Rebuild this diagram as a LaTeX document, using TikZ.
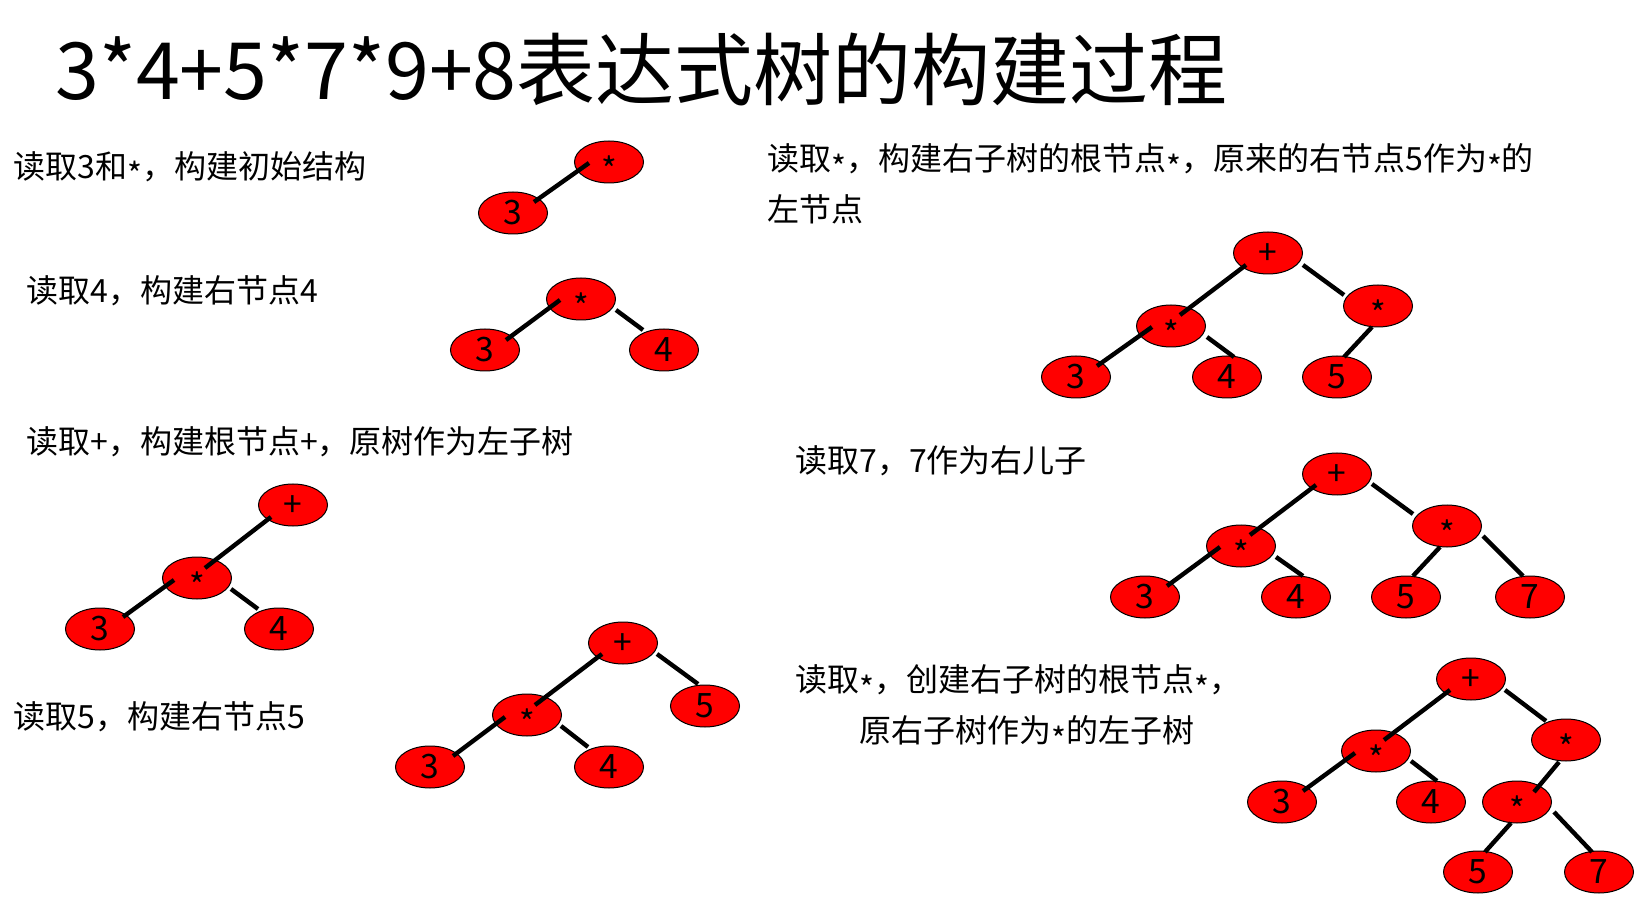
\documentclass[tikz,border=0pt]{standalone}
\usepackage{fontspec}
\setmainfont{Noto Sans CJK SC}
\usetikzlibrary{shapes.geometric, calc, positioning}
\newcommand{\lowstar}{\raisebox{-0.27em}{*}}
\tikzset{
    tnode/.style={ellipse, draw=black, line width=0.5pt, fill=red,
        minimum width=34.5pt, minimum height=21pt, inner sep=0pt,
        text height=11.8pt, text depth=0pt, font=\fontsize{16.8}{18}\selectfont},
    branch/.style={line width=2.2pt},
    caption/.style={anchor=west, inner sep=0pt, align=left,
        font=\fontsize{16}{25.3}\selectfont}
}

\begin{document}
\begin{tikzpicture}[x=0.5pt, y=-0.5pt]
    \useasboundingbox (0, 0) rectangle (1651, 909);
    \node[anchor=base west, inner sep=0pt, font=\fontsize{39.5}{42}\selectfont] (title) at (55, 100)
        {3*4+5*7*9+8表达式树的构建过程};

    % captions
    \node[caption] (c1) at (13, 169) {读取3和\lowstar，构建初始结构};
    \node[caption] (c2) at (26, 291) {读取4，构建右节点4};
    \node[caption] (c3) at (26, 442) {读取+，构建根节点+，原树作为左子树};
    \node[caption] (c4) at (13, 717) {读取5，构建右节点5};
    \node[caption] (c5) at (767, 184) {读取\lowstar，构建右子树的根节点\lowstar，原来的右节点5作为\lowstar 的\\左节点};
    \node[caption] (c6) at (795, 461) {读取7，7作为右儿子};
    \node[caption] (c7) at (795, 708) {读取\lowstar，创建右子树的根节点\lowstar，\\\hspace*{2em}原右子树作为\lowstar 的左子树};

    % step 1
    \node[tnode] (a1) at (609, 162) {\lowstar};
    \node[tnode] (a2) at (513, 213) {3};
    \draw[branch] ($(a2)+(21,-11)$) -- ($(a1)+(-20,1)$);

    % step 2
    \node[tnode] (b1) at (581, 299) {\lowstar};
    \node[tnode] (b2) at (485, 350) {3};
    \node[tnode] (b3) at (664, 350) {4};
    \draw[branch]
    ($(b2)+(21,-10)$) -- ($(b1)+(-21,1)$)
    ($(b1)+(35,11)$) -- ($(b3)+(-21,-20)$);

    % step 3
    \node[tnode] (d1) at (293, 505) {+};
    \node[tnode] (d2) at (197, 578) {\lowstar};
    \node[tnode] (d3) at (100, 629) {3};
    \node[tnode] (d4) at (279, 629) {4};
    \draw[branch]
    ($(d1)+(-22,12)$) -- ($(d2)+(8,-10)$)
    ($(d2)+(-23,2)$) -- ($(d3)+(23,-12)$)
    ($(d2)+(34,11)$) -- ($(d4)+(-21,-20)$);

    % step 4
    \node[tnode] (e1) at (623, 643) {+};
    \node[tnode] (e2) at (527, 715) {\lowstar};
    \node[tnode] (e3) at (705, 706) {5};
    \node[tnode] (e4) at (430, 767) {3};
    \node[tnode] (e5) at (609, 767) {4};
    \draw[branch]
    ($(e1)+(-21,11)$) -- ($(e2)+(8,-10)$)
    ($(e1)+(34,11)$) -- ($(e3)+(-7,-22)$)
    ($(e2)+(-22,2)$) -- ($(e4)+(23,-11)$)
    ($(e2)+(34,11)$) -- ($(e5)+(-21,-20)$);

    % step 5
    \node[tnode] (f1) at (1268, 253) {+};
    \node[tnode] (f2) at (1171, 326) {\lowstar};
    \node[tnode] (f3) at (1378, 306) {\lowstar};
    \node[tnode] (f4) at (1076, 377) {3};
    \node[tnode] (f5) at (1227, 377) {4};
    \node[tnode] (f6) at (1337, 377) {5};
    \draw[branch]
    ($(f1)+(-22,12)$) -- ($(f2)+(9,-11)$)
    ($(f1)+(35,12)$) -- ($(f3)+(-34,-11)$)
    ($(f2)+(-19,1)$) -- ($(f4)+(21,-11)$)
    ($(f2)+(36,11)$) -- ($(f5)+(7,-20)$)
    ($(f3)+(-6,21)$) -- ($(f6)+(7,-20)$);

    % step 6
    \node[tnode] (g1) at (1337, 474) {+};
    \node[tnode] (g2) at (1241, 546) {\lowstar};
    \node[tnode] (g3) at (1447, 526) {\lowstar};
    \node[tnode] (g4) at (1145, 597) {3};
    \node[tnode] (g5) at (1296, 597) {4};
    \node[tnode] (g6) at (1406, 597) {5};
    \node[tnode] (g7) at (1530, 597) {7};
    \draw[branch]
    ($(g1)+(-21,11)$) -- ($(g2)+(9,-11)$)
    ($(g1)+(35,10)$) -- ($(g3)+(-34,-12)$)
    ($(g2)+(-21,1)$) -- ($(g4)+(22,-11)$)
    ($(g2)+(35,11)$) -- ($(g5)+(7,-21)$)
    ($(g3)+(-7,21)$) -- ($(g6)+(7,-21)$)
    ($(g3)+(36,10)$) -- ($(g7)+(-7,-21)$);

    % step 7
    \node[tnode] (h1) at (1471, 679) {+};
    \node[tnode] (h2) at (1376, 751) {\lowstar};
    \node[tnode] (h3) at (1566, 740) {\lowstar};
    \node[tnode] (h4) at (1282, 802) {3};
    \node[tnode] (h5) at (1431, 802) {4};
    \node[tnode] (h6) at (1517, 802) {\lowstar};
    \node[tnode] (h7) at (1478, 872) {5};
    \node[tnode] (h8) at (1599, 872) {7};
    \draw[branch]
    ($(h1)+(-21,11)$) -- ($(h2)+(8,-11)$)
    ($(h1)+(34,11)$) -- ($(h3)+(-20,-19)$)
    ($(h2)+(-21,2)$) -- ($(h4)+(21,-11)$)
    ($(h2)+(35,10)$) -- ($(h5)+(6,-21)$)
    ($(h3)+(-7,22)$) -- ($(h6)+(17,-10)$)
    ($(h6)+(-6,21)$) -- ($(h7)+(7,-20)$)
    ($(h6)+(37,10)$) -- ($(h8)+(-7,-20)$);
\end{tikzpicture}
\end{document}
